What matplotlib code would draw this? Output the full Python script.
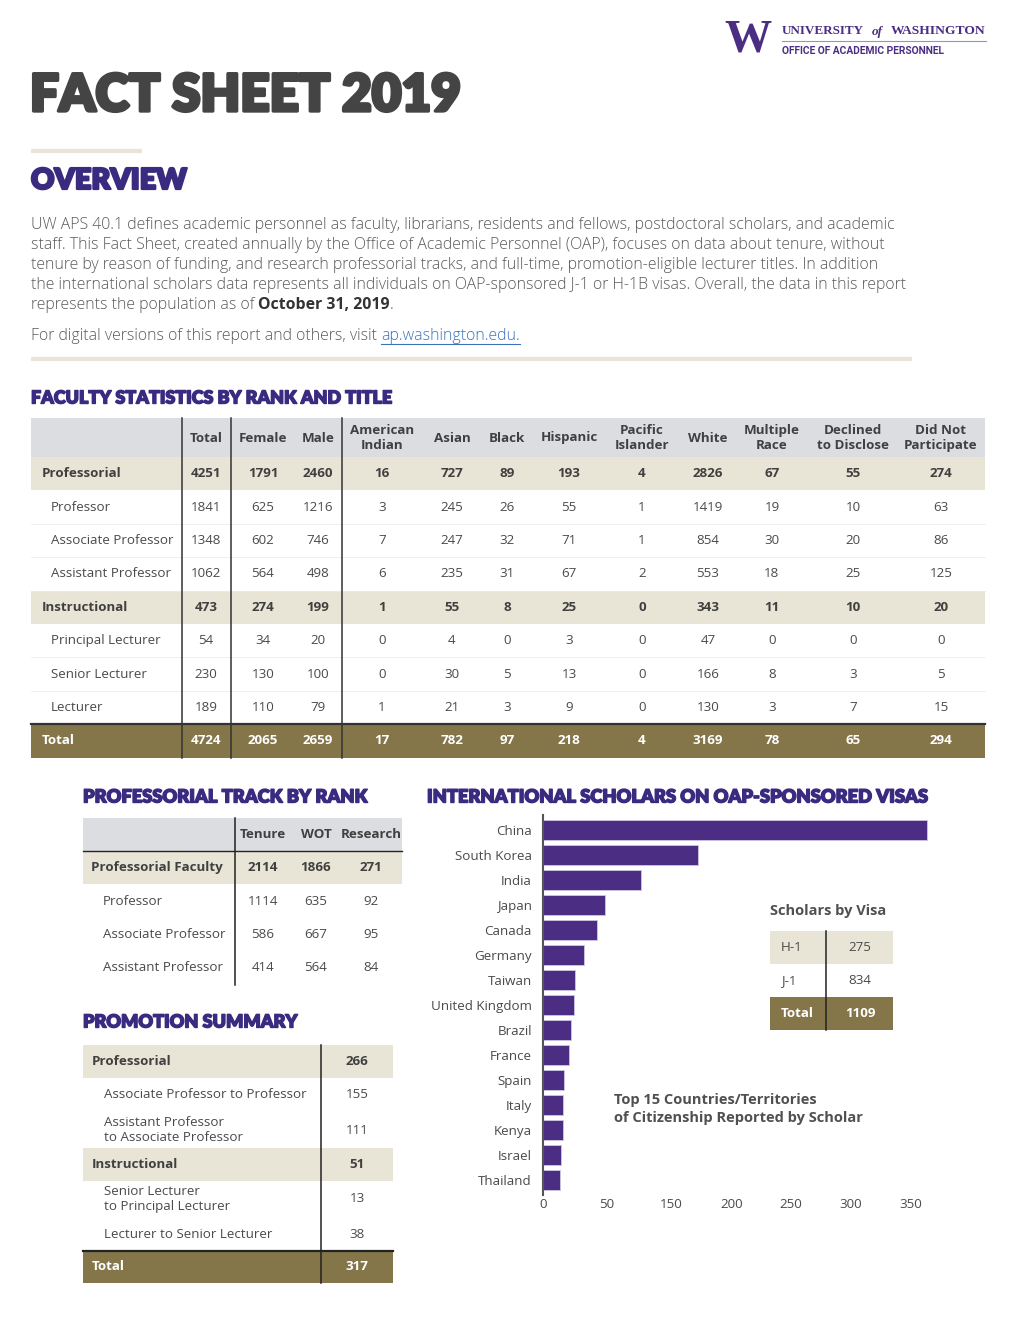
import matplotlib

matplotlib.use("Agg")
import matplotlib.pyplot as plt
import matplotlib.patheffects as pe

# ---- data ----
fac_rows = ["Professorial", "Professor", "Associate Professor", "Assistant Professor",
            "Instructional", "Principal Lecturer", "Senior Lecturer", "Lecturer", "Total"]
fac_kinds = ["group", "sub", "sub", "sub", "group", "sub", "sub", "sub", "total"]
fac_cols = ["Total", "Female", "Male", "American\nIndian", "Asian", "Black", "Hispanic",
            "Pacific\nIslander", "White", "Multiple\nRace", "Declined\nto Disclose",
            "Did Not\nParticipate"]
fac_values = [
    [4251, 1791, 2460, 16, 727, 89, 193, 4, 2826, 67, 55, 274],
    [1841, 625, 1216, 3, 245, 26, 55, 1, 1419, 19, 10, 63],
    [1348, 602, 746, 7, 247, 32, 71, 1, 854, 30, 20, 86],
    [1062, 564, 498, 6, 235, 31, 67, 2, 553, 18, 25, 125],
    [473, 274, 199, 1, 55, 8, 25, 0, 343, 11, 10, 20],
    [54, 34, 20, 0, 4, 0, 3, 0, 47, 0, 0, 0],
    [230, 130, 100, 0, 30, 5, 13, 0, 166, 8, 3, 5],
    [189, 110, 79, 1, 21, 3, 9, 0, 130, 3, 7, 15],
    [4724, 2065, 2659, 17, 782, 97, 218, 4, 3169, 78, 65, 294],
]

track_rows = ["Professorial Faculty", "Professor", "Associate Professor", "Assistant Professor"]
track_kinds = ["group", "sub", "sub", "sub"]
track_cols = ["Tenure", "WOT", "Research"]
track_values = [[2114, 1866, 271], [1114, 635, 92], [586, 667, 95], [414, 564, 84]]

promo_rows = ["Professorial", "Associate Professor to Professor",
              "Assistant Professor\nto Associate Professor", "Instructional",
              "Senior Lecturer\nto Principal Lecturer", "Lecturer to Senior Lecturer", "Total"]
promo_kinds = ["group", "sub", "sub", "group", "sub", "sub", "total"]
promo_values = [266, 155, 111, 51, 13, 38, 317]

countries = ["China", "South Korea", "India", "Japan", "Canada", "Germany", "Taiwan",
             "United Kingdom", "Brazil", "France", "Spain", "Italy", "Kenya", "Israel",
             "Thailand"]
scholars = [365, 147, 93, 59, 51, 39, 30, 29.5, 27, 25, 20, 19, 19, 17, 16]
axis_ticks = [0, 61, 122, 179, 236, 293, 350]
axis_labels = ["0", "50", "150", "200", "250", "300", "350"]

visa_types = ["H-1", "J-1", "Total"]
visa_counts = [275, 834, 1109]

overview_lines = [
    "UW APS 40.1 defines academic personnel as faculty, librarians, residents and fellows, postdoctoral scholars, and academic",
    "staff. This Fact Sheet, created annually by the Office of Academic Personnel (OAP), focuses on data about tenure, without",
    "tenure by reason of funding, and research professorial tracks, and full-time, promotion-eligible lecturer titles. In addition",
    "the international scholars data represents all individuals on OAP-sponsored J-1 or H-1B visas. Overall, the data in this report",
]

# ---- style ----
PURPLE = "#4b2e83"
HEAD_PURPLE = "#3a2a80"
BEIGE = "#e9e5d6"
GRAY_HEAD = "#dcdde1"
OLIVE = "#857649"
DARK = "#404040"
BODY = "#5a5a5a"
SANS = "Open Sans"
HEAVY = "Lato"

fig = plt.figure(figsize=(10.2, 13.2), dpi=100)
page = fig.add_axes([0, 0, 1, 1])
page.set_xlim(0, 1020)
page.set_ylim(1320, 0)
page.axis("off")
renderer = fig.canvas.get_renderer()


def to_data_width(bb):
    inv = page.transData.inverted()
    (x0, _), (x1, _) = inv.transform([(bb.x0, 0), (bb.x1, 0)])
    return x0, x1


def fit(txt, width):
    x0, x1 = to_data_width(txt.get_window_extent(renderer))
    txt.set_fontsize(txt.get_fontsize() * width / (x1 - x0))
    return txt


def heading(x, y, s, width, color=HEAD_PURPLE, size=14, stroke=1.0):
    t = page.text(x, y, s, fontsize=size, fontfamily=HEAVY, fontweight="heavy",
                  color=color, va="center", ha="left")
    fit(t, width - stroke)
    t.set_path_effects([pe.Stroke(linewidth=stroke, foreground=color), pe.Normal()])
    return t


def band(x0, x1, y0, y1, color):
    page.fill_between([x0, x1], y0, y1, color=color, lw=0)


# ---- header / logo ----
page.text(748, 40, "W", fontsize=34, fontfamily="Liberation Serif", fontweight="bold",
          color=PURPLE, ha="center", va="center")
t = page.text(782, 31, "UNIVERSITY", fontsize=10, fontfamily="Liberation Serif",
              fontweight="bold", color=PURPLE, va="center")
fit(t, 82)
page.text(872, 32, "of", fontsize=t.get_fontsize(), fontfamily="Liberation Serif",
          fontweight="bold", fontstyle="italic", color=PURPLE, va="center")
t = page.text(891, 31, "WASHINGTON", fontsize=10, fontfamily="Liberation Serif",
              fontweight="bold", color=PURPLE, va="center")
fit(t, 94)
page.plot([782, 986], [41, 41], color="#9d8fc0", lw=0.8)
t = page.text(782, 51, "OFFICE OF ACADEMIC PERSONNEL", fontsize=7, fontfamily="Roboto",
              fontweight="bold", color=PURPLE, va="center")
fit(t, 164)

heading(30, 96, "FACT SHEET 2019", 433, color="#444444", size=37, stroke=2.4)
page.plot([31, 142], [151, 151], color=BEIGE, lw=3, solid_capstyle="butt")
heading(31, 181, "OVERVIEW", 157, size=22, stroke=1.6)

# ---- overview paragraph ----
first = page.text(31, 225, overview_lines[0], fontsize=11, fontfamily=SANS,
                  fontweight="light", color=BODY, va="center")
fit(first, 865)
body_size = first.get_fontsize()
for i, line in enumerate(overview_lines[1:], start=1):
    page.text(31, 225 + 20 * i, line, fontsize=body_size, fontfamily=SANS,
              fontweight="light", color=BODY, va="center")
t = page.text(31, 305, "represents the population as of", fontsize=body_size,
              fontfamily=SANS, fontweight="light", color=BODY, va="center")
_, xe = to_data_width(t.get_window_extent(renderer))
t = page.text(xe + 4, 305, "October 31, 2019", fontsize=body_size, fontfamily=SANS,
              fontweight="bold", color="#333333", va="center")
_, xe = to_data_width(t.get_window_extent(renderer))
page.text(xe, 305, ".", fontsize=body_size, fontfamily=SANS, fontweight="light",
          color=BODY, va="center")
t = page.text(31, 336, "For digital versions of this report and others, visit",
              fontsize=body_size, fontfamily=SANS, fontweight="light", color=BODY,
              va="center")
_, xe = to_data_width(t.get_window_extent(renderer))
t = page.text(xe + 4, 336, "ap.washington.edu.", fontsize=body_size, fontfamily=SANS,
              fontweight="light", color="#3b74bb", va="center")
lx0, lx1 = to_data_width(t.get_window_extent(renderer))
page.plot([lx0, lx1], [344, 344], color="#3b74bb", lw=0.8)
page.plot([31, 912], [359, 359], color=BEIGE, lw=3, solid_capstyle="butt")

# ---- faculty statistics table ----
heading(31, 398, "FACULTY STATISTICS BY RANK AND TITLE", 359, size=13)
TX0, TX1 = 31, 985
head_top, head_bot = 418, 457
row_h = 33.4
col_x = [206, 263, 318, 382, 452, 507, 569, 642, 708, 772, 853, 941]
cell_fs = 9.6

band(TX0, TX1, head_top, head_bot, GRAY_HEAD)
for cx, name in zip(col_x, fac_cols):
    page.text(cx, 438, name, fontsize=cell_fs, fontfamily=SANS, fontweight="bold",
              color=DARK, ha="center", va="center", linespacing=1.15)

for i, (name, kind, vals) in enumerate(zip(fac_rows, fac_kinds, fac_values)):
    y0 = head_bot + i * row_h
    yc = y0 + row_h / 2
    if kind == "group":
        band(TX0, TX1, y0, y0 + row_h, BEIGE)
    elif kind == "total":
        band(TX0, TX1, y0, y0 + row_h, OLIVE)
    else:
        page.plot([TX0, TX1], [y0 + row_h, y0 + row_h], color="#ececec", lw=0.6)
    bold = kind != "sub"
    color = "white" if kind == "total" else (DARK if bold else "#4a4a4a")
    page.text(42 if bold else 51, yc, name, fontsize=cell_fs, fontfamily=SANS,
              fontweight="bold" if bold else "normal", color=color, va="center")
    for cx, v in zip(col_x, vals):
        page.text(cx, yc, str(v), fontsize=cell_fs, fontfamily=SANS,
                  fontweight="bold" if bold else "normal", color=color,
                  ha="center", va="center")
total_top = head_bot + 8 * row_h
page.plot([TX0, TX1], [total_top, total_top], color="#333333", lw=1.6)
for vx in [182, 231, 342]:
    page.plot([vx, vx], [head_top, total_top + row_h], color="#333333", lw=1.1)

# ---- professorial track table ----
heading(83, 797, "PROFESSORIAL TRACK BY RANK", 283, size=13)
band(83, 402, 818, 851, GRAY_HEAD)
page.plot([83, 402], [851, 851], color="#222222", lw=1.0)
tcol_x = [263, 316, 371]
for cx, name in zip(tcol_x, track_cols):
    page.text(cx, 835, name, fontsize=cell_fs, fontfamily=SANS, fontweight="bold",
              color=DARK, ha="center", va="center")
for i, (name, kind, vals) in enumerate(zip(track_rows, track_kinds, track_values)):
    y0 = 851 + i * 33.4
    yc = y0 + 16.7
    bold = kind == "group"
    if bold:
        band(83, 402, y0, y0 + 33.4, BEIGE)
    page.text(91 if bold else 103, yc, name, fontsize=cell_fs, fontfamily=SANS,
              fontweight="bold" if bold else "normal", color=DARK if bold else "#4a4a4a",
              va="center")
    for cx, v in zip(tcol_x, vals):
        page.text(cx, yc, str(v), fontsize=cell_fs, fontfamily=SANS,
                  fontweight="bold" if bold else "normal",
                  color=DARK if bold else "#4a4a4a", ha="center", va="center")
page.plot([235, 235], [818, 985], color="#222222", lw=1.1)

# ---- promotion summary table ----
heading(83, 1022, "PROMOTION SUMMARY", 214, size=13)
promo_bounds = [1045, 1078, 1112, 1148, 1181, 1217, 1251, 1283]
for i, (name, kind, v) in enumerate(zip(promo_rows, promo_kinds, promo_values)):
    y0, y1 = promo_bounds[i], promo_bounds[i + 1]
    yc = (y0 + y1) / 2
    if kind == "group":
        band(83, 393, y0, y1, BEIGE)
    elif kind == "total":
        band(83, 393, y0, y1, OLIVE)
    bold = kind != "sub"
    color = "white" if kind == "total" else (DARK if bold else "#4a4a4a")
    page.text(92 if bold else 104, yc, name, fontsize=cell_fs, fontfamily=SANS,
              fontweight="bold" if bold else "normal", color=color, va="center",
              linespacing=1.2)
    page.text(357, yc, str(v), fontsize=cell_fs, fontfamily=SANS,
              fontweight="bold" if bold else "normal", color=color,
              ha="center", va="center")
page.plot([83, 393], [1251, 1251], color="#222222", lw=1.6)
page.plot([321, 321], [1045, 1283], color="#222222", lw=1.1)

# ---- international scholars bar chart ----
heading(427, 797, "INTERNATIONAL SCHOLARS ON OAP-SPONSORED VISAS", 498, size=13)
px_per_unit = (911 - 543) / 350
ax_left, ax_w = 543, 390 * px_per_unit
ax_top, ax_bot = 815, 1195
ax = fig.add_axes([ax_left / 1020, 1 - ax_bot / 1320, ax_w / 1020, (ax_bot - ax_top) / 1320])
ax.barh(range(len(countries)), scholars, height=0.78, color=PURPLE,
        edgecolor="#cfc6e4", linewidth=0.6)
ax.set_ylim(len(countries) - 0.4, -0.6)
ax.set_xlim(0, 390)
ax.set_yticks(range(len(countries)))
ax.set_yticklabels(countries, fontsize=9.6, fontfamily=SANS, color="#4a4a4a")
ax.set_xticks(axis_ticks)
ax.set_xticklabels(axis_labels, fontsize=9.6, fontfamily=SANS, color="#4a4a4a")
ax.tick_params(length=0)
ax.tick_params(axis="y", pad=8)
ax.tick_params(axis="x", pad=2)
for side in ["top", "right", "bottom"]:
    ax.spines[side].set_visible(False)
ax.spines["left"].set_color("#555555")
ax.spines["left"].set_linewidth(1.5)
ax.patch.set_alpha(0)

# ---- scholars by visa ----
page.text(770, 911, "Scholars by Visa", fontsize=10.5, fontfamily=SANS, fontweight="bold",
          color="#505050", va="center")
visa_bounds = [931, 964, 997, 1030]
for i, (name, v) in enumerate(zip(visa_types, visa_counts)):
    y0, y1 = visa_bounds[i], visa_bounds[i + 1]
    yc = (y0 + y1) / 2
    total = name == "Total"
    if i == 0:
        band(770, 893, y0, y1, BEIGE)
    elif total:
        band(770, 893, y0, y1, OLIVE)
    color = "white" if total else "#4a4a4a"
    page.text(781, yc, name, fontsize=cell_fs, fontfamily=SANS,
              fontweight="bold" if total else "normal", color=color, va="center")
    page.text(860, yc, str(v), fontsize=cell_fs, fontfamily=SANS,
              fontweight="bold" if total else "normal", color=color,
              ha="center", va="center")
page.plot([826, 826], [931, 1030], color="#222222", lw=1.1)

page.text(614, 1109, "Top 15 Countries/Territories\nof Citizenship Reported by Scholar",
          fontsize=10.5, fontfamily=SANS, fontweight="bold", color="#505050",
          va="center", linespacing=1.3)

fig.savefig("out.png", dpi=100)
